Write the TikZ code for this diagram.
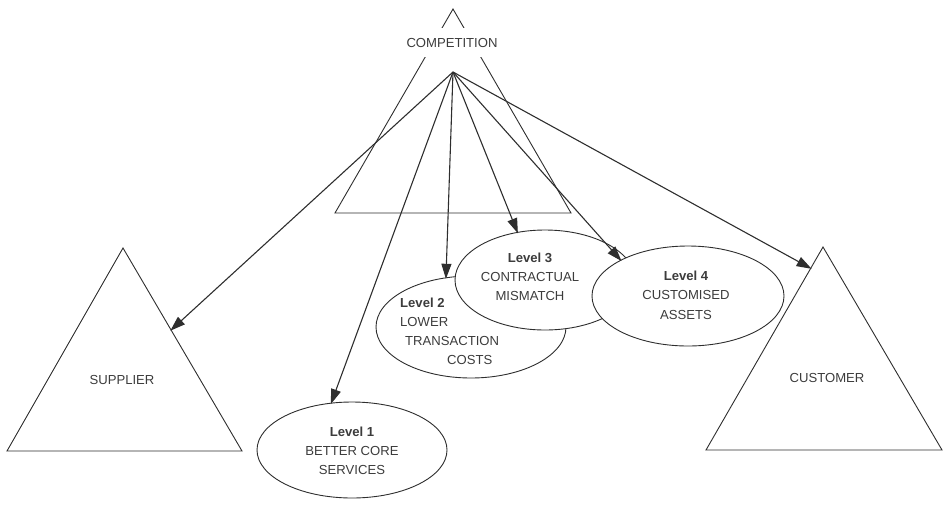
\documentclass[tikz,border=0pt]{standalone}
\usepackage{fontspec}
\setmainfont{Liberation Sans}
\usetikzlibrary{arrows.meta,shapes.geometric,calc}
\definecolor{ink}{HTML}{2E2E2E}
\definecolor{txt}{HTML}{3C3C3C}
\tikzset{
  shapeline/.style={draw=ink, line width=0.9pt, line join=miter},
  lvl/.style={ellipse, shapeline, fill=white, inner sep=0pt, outer sep=0pt},
  lbl/.style={text=txt, inner sep=0pt, font=\fontsize{13.1}{19}\selectfont},
  lvltxt/.style={lbl, align=center},
  link/.style={draw=ink, line width=1.1pt, -{Triangle[length=15pt,width=10pt]}, shorten >=-1pt},
}
\begin{document}
\begin{tikzpicture}[x=1pt,y=-1pt]
\useasboundingbox (0,0) rectangle (943,504);
% Competition triangle
\coordinate (cA) at (453,9);
\coordinate (cL) at (335,213);
\coordinate (cR) at (571,213);
\draw[shapeline] (cA) -- (cL) -- (cR) -- cycle;
\node[lbl, fill=white, minimum height=29pt, inner xsep=1pt] (comp) at (452,42.5) {COMPETITION};
\coordinate (src) at (453,72);
% Supplier triangle
\coordinate (sA) at (123,248);
\coordinate (sL) at (7,451);
\coordinate (sR) at (242,451);
\draw[shapeline] (sA) -- (sL) -- (sR) -- cycle;
\node[lbl] (sup) at (122,380) {SUPPLIER};
\coordinate (suptip) at ($(sA)!0.404!(sR)$);
% Customer triangle
\coordinate (kA) at (823,247);
\coordinate (kL) at (706,450);
\coordinate (kR) at (942,450);
\draw[shapeline] (kA) -- (kL) -- (kR) -- cycle;
\node[lbl] (cust) at (827,378) {CUSTOMER};
\coordinate (custip) at ($(kA)!0.105!(kL)$);
% Level ellipses
\node[lvl, minimum width=190pt, minimum height=96pt] (l1) at (352,450) {};
\node[lvl, minimum width=190pt, minimum height=102pt] (l2) at (471,327) {};
\node[lvl, minimum width=180pt, minimum height=100pt] (l3) at (545,280) {};
\node[lvl, minimum width=192pt, minimum height=100pt] (l4) at (688,296) {};
% Level texts
\node[lvltxt] (t1) at (352,451) {\textbf{Level 1}\\BETTER CORE\\SERVICES};
\node[lbl, align=left, anchor=west] (t2) at (400,331.5) {\textbf{Level 2}\\LOWER\\\hspace*{5pt}TRANSACTION\\\hspace*{47pt}COSTS};
\node[lvltxt] (t3) at (530,277) {\textbf{Level 3}\\CONTRACTUAL\\MISMATCH};
\node[lvltxt, font=\fontsize{13.1}{19.5}\selectfont] (t4) at (686,295) {\textbf{Level 4}\\CUSTOMISED\\ASSETS};
% Arrows
\draw[link] (src) -- (suptip);
\draw[link] (src) -- (l1.114);
\draw[link] (src) -- (l2.117);
\draw[link] (src) -- (l3.120);
\draw[link] (src) -- (l4.152);
\draw[link] (src) -- (custip);
\end{tikzpicture}
\end{document}
